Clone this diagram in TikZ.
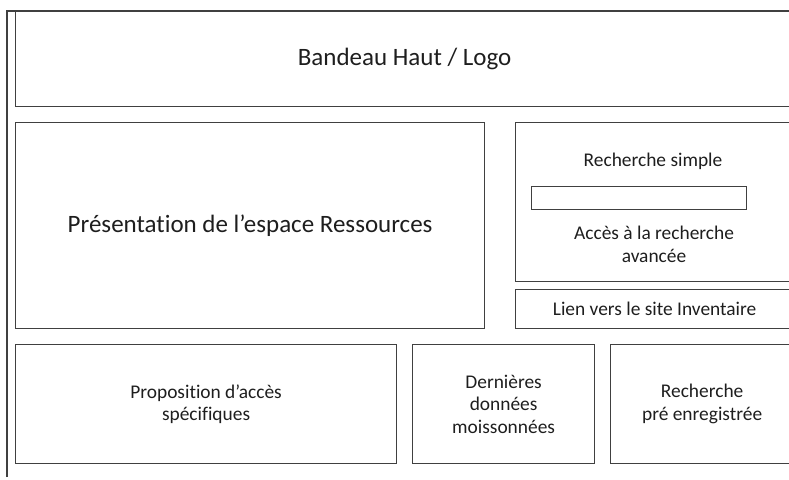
\documentclass[tikz,border=0pt]{standalone}
\usepackage{fontspec}
\setmainfont{Carlito}[Ligatures=NoCommon]
\usepackage{tikz}
\usetikzlibrary{positioning}
\definecolor{trait}{RGB}{64,64,64}
\definecolor{texte}{RGB}{30,30,30}

\begin{document}
\begin{tikzpicture}[x=1pt,y=-1pt]
        \tikzstyle{zone}=[draw=trait, line width=1.2pt, anchor=north west, inner sep=0pt, text=texte, align=center, font=\fontsize{19.4}{22.5}\selectfont]
        \tikzstyle{grand}=[font=\fontsize{25}{30}\selectfont]
        \tikzstyle{libelle}=[text=texte, align=center, inner sep=0pt, font=\fontsize{19.4}{22.5}\selectfont]
        \clip (0,0) rectangle (789,479);

        % cadre de la page
        \draw[trait, line width=1.2pt] (7,477) -- (7,11) -- (800,11);

        \node[zone, grand, minimum width=778pt, minimum height=95pt] (haut) at (15,11) {Bandeau Haut / Logo};
        \node[zone, grand, minimum width=469pt, minimum height=206pt] (pres) at (15,122) {Présentation de l’espace Ressources};

        \node[zone, minimum width=278pt, minimum height=159pt] (rech) at (515,122) {};
        \node[libelle] (simple) at (653,161) {Recherche simple};
        \node[zone, line width=1pt, minimum width=215pt, minimum height=23pt] (champ) at (531,186) {};
        \node[libelle] (avance) at (654,244.5) {Accès à la recherche\\avancée};
        \node[zone, minimum width=278pt, minimum height=39pt] (lien) at (515,289) {Lien vers le site Inventaire};

        \node[zone, minimum width=381pt, minimum height=119pt] (propo) at (15,344) {Proposition d’accès\\spécifiques};
        \node[zone, minimum width=182pt, minimum height=119pt] (moiss) at (412,344) {Dernières\\données\\moissonnées};
        \node[zone, minimum width=183pt, minimum height=119pt] (preen) at (610,344) {Recherche\\pré enregistrée};
\end{tikzpicture}
\end{document}
